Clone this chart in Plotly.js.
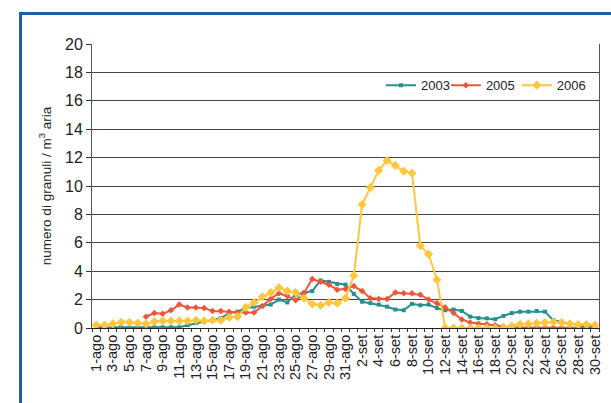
<!DOCTYPE html>
<html>
<head>
<meta charset="utf-8">
<script src="https://cdn.plot.ly/plotly-3.0.1.min.js"></script>
<style>
  body { margin: 0; background: #fff; }
  #wrap { position: relative; width: 611px; height: 403px; overflow: hidden; }
  #chart { position: absolute; left: 0; top: 0; width: 611px; height: 403px; }
  #frame { position: absolute; left: 19px; top: 12px; width: 640px; height: 440px;
           border: 3px solid #1d5ea8; pointer-events: none; }
</style>
</head>
<body>
<div id="wrap">
  <div id="chart"></div>
  <div id="frame"></div>
</div>
<script>
// giorni da 1 agosto a 30 settembre
const days = [
    '1-ago','2-ago','3-ago','4-ago','5-ago','6-ago','7-ago','8-ago','9-ago','10-ago',
    '11-ago','12-ago','13-ago','14-ago','15-ago','16-ago','17-ago','18-ago','19-ago','20-ago',
    '21-ago','22-ago','23-ago','24-ago','25-ago','26-ago','27-ago','28-ago','29-ago','30-ago','31-ago',
    '1-set','2-set','3-set','4-set','5-set','6-set','7-set','8-set','9-set','10-set',
    '11-set','12-set','13-set','14-set','15-set','16-set','17-set','18-set','19-set','20-set',
    '21-set','22-set','23-set','24-set','25-set','26-set','27-set','28-set','29-set','30-set'
];

// granuli / m3 aria
const y2003 = [
    0.1, 0.0, 0.05, 0.05, 0.0, 0.0, 0.0, 0.05, 0.05, 0.05,
    0.05, 0.2, 0.35, 0.45, 0.55, 0.7, 1.05, 1.15, 1.4, 1.5,
    1.55, 1.65, 2.0, 1.8, 2.35, 2.5, 2.6, 3.35, 3.25, 3.1, 3.05,
    2.4, 1.85, 1.75, 1.65, 1.5, 1.3, 1.25, 1.7, 1.6, 1.65,
    1.4, 1.25, 1.3, 1.2, 0.8, 0.7, 0.68, 0.62, 0.85, 1.05,
    1.15, 1.15, 1.2, 1.15, 0.55, 0.42, 0.3, 0.2, 0.1, 0.07
];
const y2005 = [
    null, null, null, null, null, null, 0.8, 1.05, 1.0, 1.25,
    1.65, 1.45, 1.45, 1.4, 1.2, 1.2, 1.15, 1.1, 1.1, 1.1,
    1.55, 2.05, 2.45, 2.25, 1.95, 2.45, 3.45, 3.25, 3.05, 2.7, 2.75,
    2.95, 2.6, 2.1, 2.05, 2.05, 2.5, 2.45, 2.45, 2.35, 2.0,
    1.75, 1.45, 1.05, 0.6, 0.38, 0.3, 0.26, 0.19, 0.1, 0.05,
    0.03, 0.02, 0.02, 0.02, 0.02, 0.02, 0.02, 0.02, 0.02, 0.02
];
const y2006 = [
    0.2, 0.2, 0.3, 0.4, 0.4, 0.35, 0.3, 0.45, 0.5, 0.5,
    0.5, 0.5, 0.55, 0.5, 0.55, 0.55, 0.75, 0.8, 1.45, 1.8,
    2.2, 2.5, 2.85, 2.6, 2.5, 2.1, 1.7, 1.6, 1.8, 1.75, 2.1,
    3.7, 8.7, 9.9, 11.1, 11.8, 11.45, 11.05, 10.9, 5.8, 5.2,
    3.4, 0, 0, 0, 0, 0, 0, 0, 0, 0.14,
    0.26, 0.3, 0.33, 0.38, 0.42, 0.38, 0.3, 0.24, 0.24, 0.2
];

const yTicks = [0, 2, 4, 6, 8, 10, 12, 14, 16, 18, 20];

// etichette solo un giorno si e uno no
const tickText = days.map((d, i) => i % 2 === 0 ? d : '');

const font = 'Liberation Sans, Arial, sans-serif';

var t2003 = {
    x: days, y: y2003, name: '2003', type: 'scatter', mode: 'lines+markers',
    line: { color: '#26908f', width: 2 },
    marker: { color: '#26908f', size: 4, symbol: 'square' },
    legend: 'legend',
};
var t2005 = {
    x: days, y: y2005, name: '2005', type: 'scatter', mode: 'lines+markers',
    line: { color: '#f05538', width: 2 },
    marker: { color: '#f05538', size: 5, symbol: 'diamond' },
    legend: 'legend2',
};
var t2006 = {
    x: days, y: y2006, name: '2006', type: 'scatter', mode: 'lines+markers',
    line: { color: '#ffc63e', width: 2 },
    marker: { color: '#ffc63e', size: 7, symbol: 'diamond' },
    legend: 'legend3',
};

// una legenda per serie, per avere le stesse distanze del grafico originale
function legendAt(x) {
    return {
        orientation: 'h', x: x, y: 0.855, xanchor: 'left', yanchor: 'middle',
        bgcolor: 'rgba(255,255,255,0)', font: { size: 13, color: '#222' },
        itemwidth: 30,
    };
}

var layout = {
    width: 611, height: 403,
    margin: { l: 92, r: 12, t: 44, b: 75 },
    paper_bgcolor: 'rgba(0,0,0,0)',
    plot_bgcolor: '#fff',
    font: { family: font, color: '#222', size: 14 },
    showlegend: true,
    legend: legendAt(0.57),
    legend2: legendAt(0.698),
    legend3: legendAt(0.838),
    xaxis: {
        type: 'category',
        tickvals: days, ticktext: tickText,
        tickangle: -90,
        tickson: 'boundaries',
        ticks: 'outside', ticklen: 3, tickcolor: '#333',
        tickfont: { size: 14.5, color: '#222' },
        showgrid: false, zeroline: false,
        showline: true, linecolor: '#222', linewidth: 1,
        range: [-0.5, 60.5],
    },
    yaxis: {
        range: [0, 20], tickvals: yTicks,
        ticks: 'outside', ticklen: 5, tickcolor: '#333',
        tickfont: { size: 16, color: '#222' },
        showgrid: true, gridcolor: '#444', gridwidth: 1,
        zeroline: false,
        showline: true, mirror: true, linecolor: '#555', linewidth: 1,
        title: { text: 'numero di granuli / m<sup>3</sup> aria', font: { size: 13.5, color: '#222' }, standoff: 10 },
    },
};

Plotly.newPlot('chart', [t2003, t2005, t2006], layout, { staticPlot: true });
</script>
</body>
</html>
